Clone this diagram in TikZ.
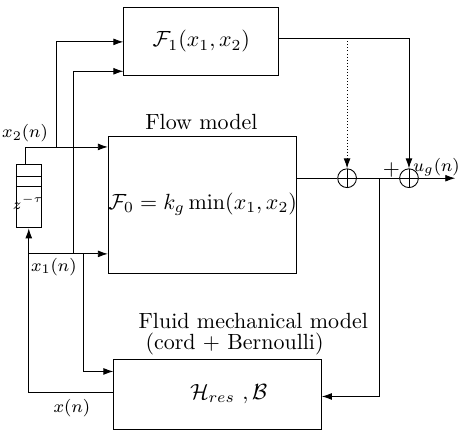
\documentclass[tikz,border=0pt]{standalone}
\usepackage{amsmath, amssymb}
\usetikzlibrary{arrows.meta, positioning, calc}

\begin{document}
\begin{tikzpicture}[>={Latex[length=1.6mm, width=1.1mm]},
  bloc/.style={draw, inner sep=0pt},
  sumnode/.style={draw, circle, minimum size=0.3cm, inner sep=0pt,
    path picture={\draw (path picture bounding box.north) -- (path picture bounding box.south)
      (path picture bounding box.west) -- (path picture bounding box.east);}},
  sig/.style={font=\footnotesize}]
  \useasboundingbox (0,0) rectangle (7.34,6.88);
  % Blocks
  \node[bloc, minimum width=2.48cm, minimum height=1.09cm] (f1) at (3.22,6.22) {$\mathcal{F}_1(x_1,x_2)$};
  \node[bloc, minimum width=3.0cm, minimum height=2.19cm] (f0) at (3.24,3.61) {$\mathcal{F}_0 = k_g\min(x_1,x_2)$};
  \node (flowlab) at (3.22,4.93) {Flow model};
  \node[bloc, minimum width=3.32cm, minimum height=1.12cm] (hres) at (3.48,0.58) {$\quad\mathcal{H}_{res}\ ,\mathcal{B}$};
  \node[right, inner sep=0pt] (fluidlab) at (2.21,1.75) {Fluid mechanical model};
  \node[right, inner sep=0pt] (cordlab) at (2.32,1.38) {(cord + Bernoulli)};
  % Delay
  \node[bloc, minimum width=0.4cm, minimum height=1.01cm] (delay) at (0.46,3.74) {};
  \draw ($(delay.north west)+(0,-0.19)$) -- ($(delay.north east)+(0,-0.19)$);
  \draw ($(delay.north west)+(0,-0.35)$) -- ($(delay.north east)+(0,-0.35)$);
  \node[font=\scriptsize] (zlab) at (0.45,3.64) {$z^{-\tau}$};
  % Sums
  \node[sumnode] (sum1) at (5.55,4.03) {};
  \node[sumnode] (sum2) at (6.54,4.03) {};
  \node (plus) at (6.26,4.16) {$+$};
  % Outputs
  \coordinate (tap) at (5.55,6.27);
  \coordinate (back) at (6.06,4.03);
  \coordinate (ug) at (7.28,4.03);
  \draw (f0.east |- sum1) -- (sum1.west);
  \draw (sum1.east) -- (sum2.west);
  \draw[->] (sum2.east) -- (ug);
  \node[sig] (uglab) at (6.98,4.2) {$u_g(n)$};
  \draw[->] (f1.east |- tap) -| (sum2.north);
  \draw[->, densely dotted] (tap) -- (sum1.north);
  \draw[->] (back) |- (hres.east |- 0,0.54);
  % Inputs
  \coordinate (x2top) at (0.40,4.53);
  \coordinate (k2) at (0.91,4.53);
  \coordinate (k1) at (0.46,2.82);
  \coordinate (k3) at (1.17,2.82);
  \coordinate (k4) at (1.33,2.82);
  \draw[->] (delay.north -| x2top) -- (x2top) -- (f0.west |- x2top);
  \draw[->] (k2) |- (f1.west |- 0,6.21);
  \draw[->] (hres.west |- 0,0.61) -| (delay.south);
  \draw[->] (k1) -- (f0.west |- k1);
  \draw[->] (k3) |- (f1.west |- 0,5.74);
  \draw[->] (k4) |- (hres.west |- 0,0.94);
  \node[sig] (x2lab) at (0.40,4.75) {$x_2(n)$};
  \node[sig] (x1lab) at (0.86,2.61) {$x_1(n)$};
  \node[sig] (xlab) at (1.15,0.35) {$x(n)$};
\end{tikzpicture}
\end{document}
